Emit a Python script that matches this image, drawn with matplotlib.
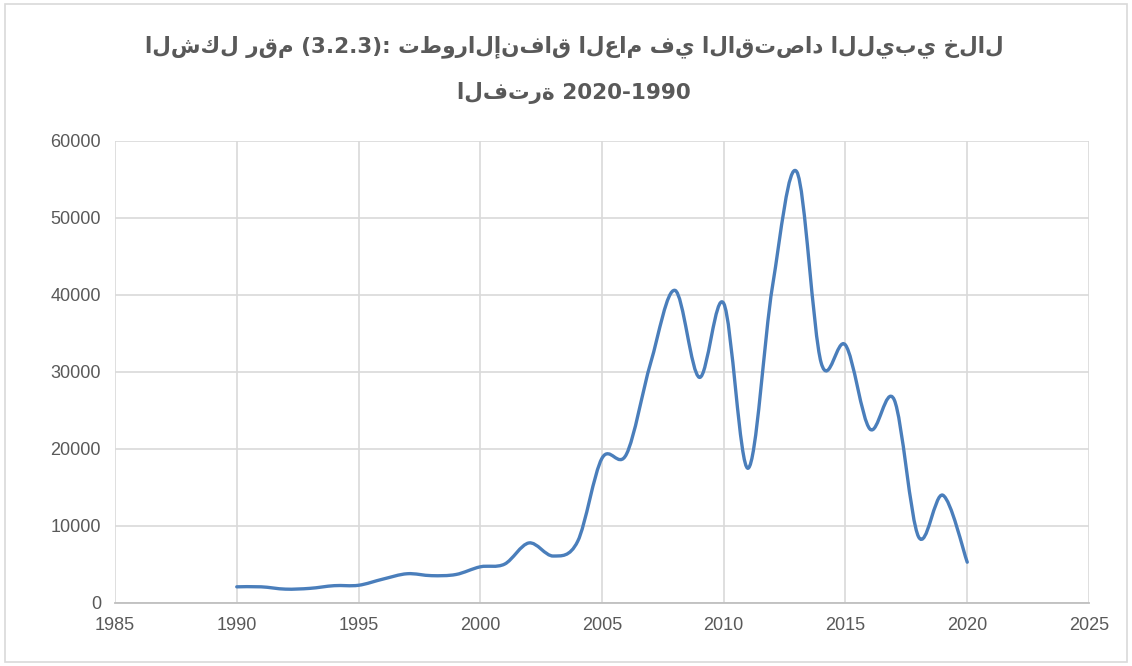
import matplotlib.pyplot as plt
from matplotlib.path import Path
from matplotlib.patches import PathPatch, Rectangle

# data (public spending, Libya)
years = list(range(1990, 2021))
spending = [2100, 2100, 1800, 1900, 2250, 2300, 3100, 3800, 3550, 3700,
            4700, 5050, 7800, 6100, 8000, 18800, 19300, 31200, 40600, 29300,
            38900, 17500, 41100, 56000, 31200, 33500, 22600, 26400, 8600, 14000, 5300]

x_ticks = list(range(1985, 2026, 5))
y_ticks = list(range(0, 60001, 10000))

title_line1 = "الشكل رقم (3.2.3): تطورالإنفاق العام في الاقتصاد الليبي خلال"
title_line2 = "الفترة 2020-1990"


def smooth_path(xs, ys):
    # Bezier spline through the points, like a spreadsheet "smoothed line"
    px = [xs[0]] + list(xs) + [xs[-1]]
    py = [ys[0]] + list(ys) + [ys[-1]]
    verts = [(xs[0], ys[0])]
    codes = [Path.MOVETO]
    for i in range(1, len(px) - 2):
        c1 = (px[i] + (px[i + 1] - px[i - 1]) / 6, py[i] + (py[i + 1] - py[i - 1]) / 6)
        c2 = (px[i + 1] - (px[i + 2] - px[i]) / 6, py[i + 1] - (py[i + 2] - py[i]) / 6)
        verts += [c1, c2, (px[i + 1], py[i + 1])]
        codes += [Path.CURVE4] * 3
    return Path(verts, codes)


fig = plt.figure(figsize=(11.32, 6.66), dpi=100)
ax = fig.add_axes([0.1016, 0.0946, 0.8604, 0.6937])

line = PathPatch(smooth_path(years, spending), facecolor='none',
                 edgecolor='#4a7ebb', lw=2.4, capstyle='round', joinstyle='round', zorder=3)
ax.add_patch(line)

ax.set_xlim(1985, 2025)
ax.set_ylim(0, 60000)
ax.set_xticks(x_ticks)
ax.set_yticks(y_ticks)
ax.grid(True, color='#d9d9d9', lw=1.2)
ax.set_axisbelow(True)
for s in ['top', 'right', 'left']:
    ax.spines[s].set_visible(False)
ax.spines['bottom'].set_color('#bfbfbf')
ax.spines['bottom'].set_linewidth(1.3)
ax.tick_params(length=0, labelsize=13, labelcolor='#595959', pad=10)
for lab in ax.get_xticklabels() + ax.get_yticklabels():
    lab.set_family(['Liberation Sans', 'DejaVu Sans'])

# DejaVu only: a family fallback breaks the Arabic joining
fig.text(0.507, 0.930, title_line1, ha='center', va='center', fontsize=15.5,
         fontweight='bold', color='#595959', family=['DejaVu Sans'])
fig.text(0.507, 0.860, title_line2, ha='center', va='center', fontsize=15.5,
         fontweight='bold', color='#595959', family=['DejaVu Sans'])

fig.patches.append(Rectangle((0.004, 0.006), 0.992, 0.988, transform=fig.transFigure,
                             fill=False, edgecolor='#d9d9d9', lw=1.2))

fig.savefig('out.png', dpi=100)
